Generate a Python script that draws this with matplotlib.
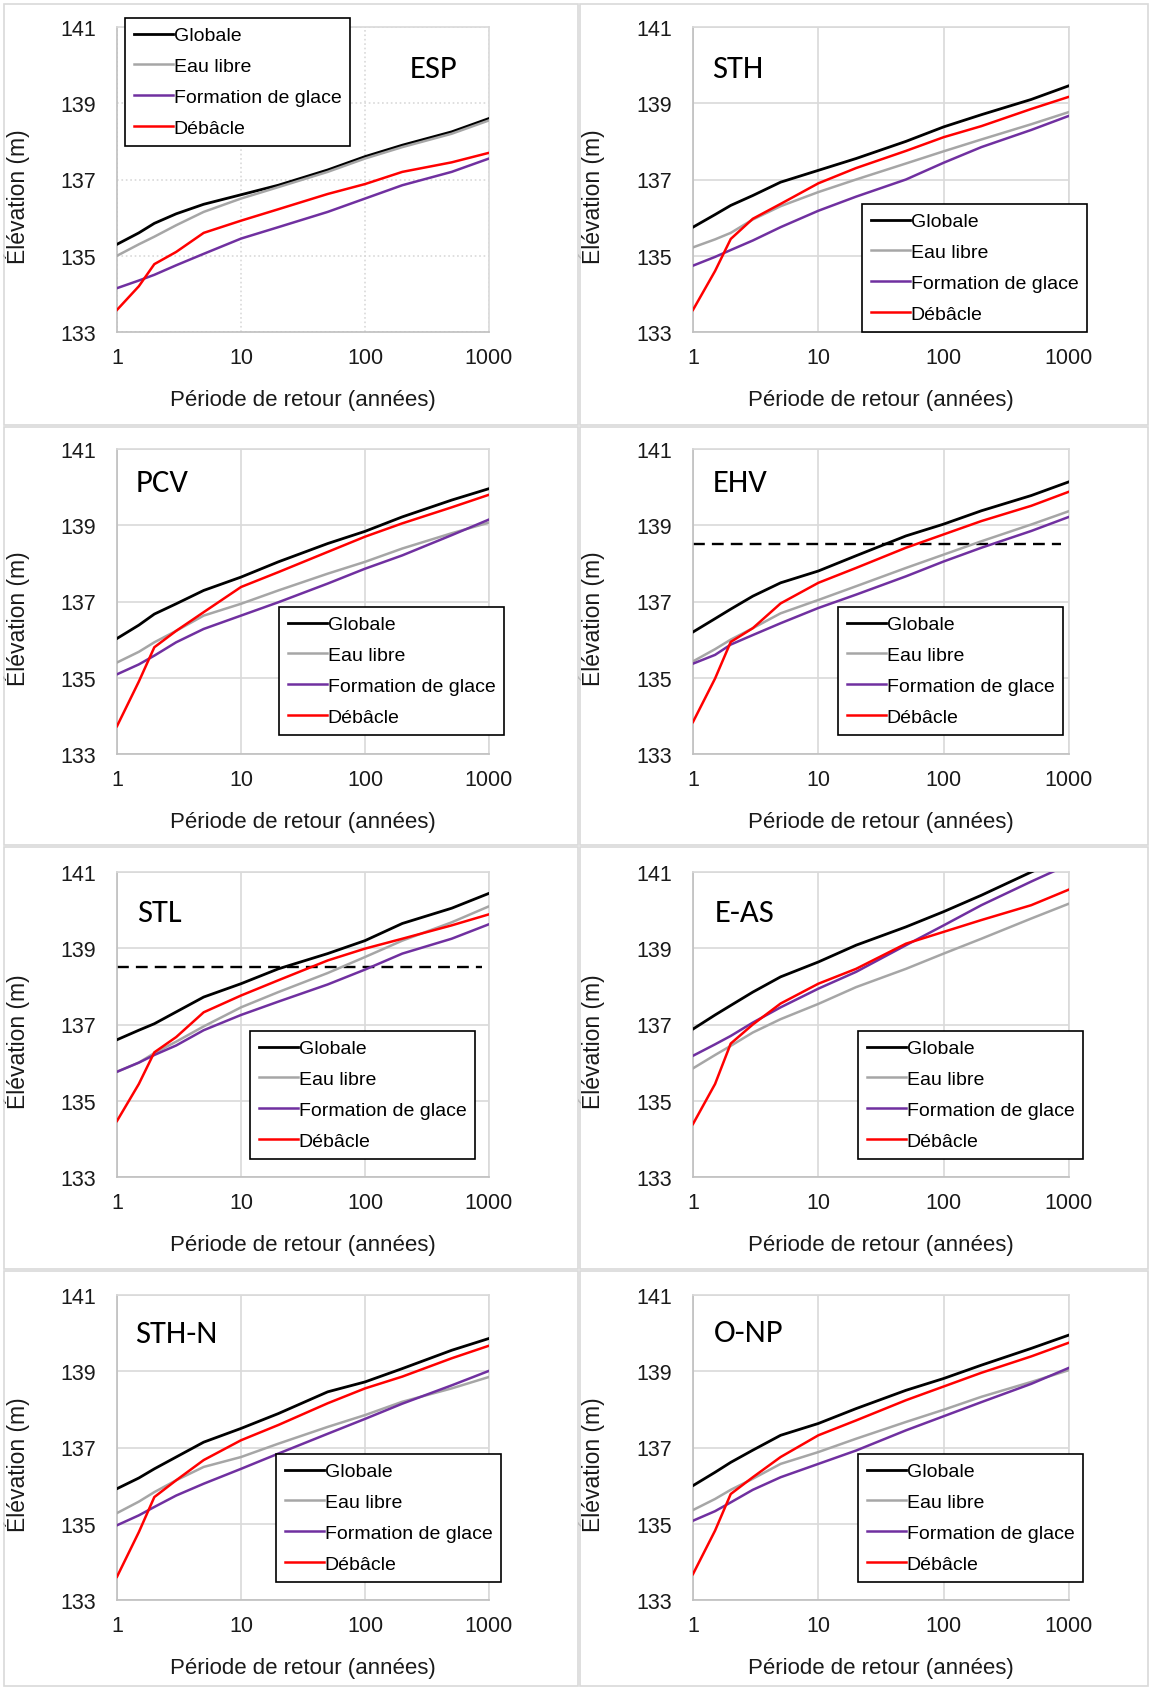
import matplotlib.pyplot as plt
from matplotlib.patches import Rectangle
from matplotlib.ticker import NullLocator

plt.rcParams['font.family'] = ['Liberation Sans', 'DejaVu Sans']

# periode de retour (annees)
periode = [1, 1.5, 2, 3, 5, 10, 20, 50, 100, 200, 500, 1000]
series_noms = ["Globale", "Eau libre", "Formation de glace", "Débâcle"]
series_couleurs = ["#000000", "#a6a6a6", "#7030a0", "#ff0000"]

# ESP
esp_globale = [135.3, 135.6, 135.85, 136.1, 136.35, 136.6, 136.85, 137.25, 137.6, 137.9, 138.25, 138.6]
esp_eau = [135.0, 135.3, 135.5, 135.8, 136.15, 136.5, 136.8, 137.2, 137.55, 137.85, 138.2, 138.55]
esp_glace = [134.15, 134.35, 134.5, 134.75, 135.05, 135.45, 135.75, 136.15, 136.5, 136.85, 137.2, 137.55]
esp_debacle = [133.58, 134.2, 134.78, 135.1, 135.6, 135.92, 136.22, 136.62, 136.88, 137.2, 137.45, 137.7]
# STH
sth_globale = [135.75, 136.08, 136.32, 136.58, 136.93, 137.24, 137.55, 138.0, 138.38, 138.7, 139.1, 139.46]
sth_eau = [135.22, 135.43, 135.6, 135.95, 136.3, 136.67, 137.0, 137.42, 137.74, 138.05, 138.45, 138.77]
sth_glace = [134.74, 134.97, 135.15, 135.4, 135.75, 136.18, 136.55, 137.0, 137.44, 137.85, 138.3, 138.67]
sth_debacle = [133.58, 134.6, 135.44, 135.97, 136.36, 136.9, 137.3, 137.75, 138.11, 138.4, 138.85, 139.17]
# PCV
pcv_globale = [136.03, 136.38, 136.67, 136.94, 137.29, 137.64, 138.04, 138.52, 138.84, 139.22, 139.66, 139.96]
pcv_eau = [135.4, 135.68, 135.93, 136.23, 136.63, 136.94, 137.29, 137.73, 138.04, 138.39, 138.79, 139.07]
pcv_glace = [135.09, 135.35, 135.58, 135.93, 136.28, 136.63, 136.98, 137.47, 137.86, 138.21, 138.74, 139.15]
pcv_debacle = [133.73, 134.9, 135.8, 136.23, 136.72, 137.38, 137.77, 138.3, 138.7, 139.05, 139.47, 139.8]
# EHV
ehv_globale = [136.2, 136.55, 136.8, 137.14, 137.49, 137.8, 138.2, 138.72, 139.03, 139.38, 139.78, 140.14]
ehv_eau = [135.43, 135.75, 136.0, 136.3, 136.69, 137.04, 137.4, 137.88, 138.23, 138.58, 139.02, 139.37]
ehv_glace = [135.37, 135.6, 135.87, 136.12, 136.43, 136.83, 137.18, 137.66, 138.05, 138.41, 138.85, 139.22]
ehv_debacle = [133.84, 134.98, 135.94, 136.3, 136.95, 137.49, 137.88, 138.41, 138.76, 139.11, 139.51, 139.88]
# STL
stl_globale = [136.6, 136.85, 137.02, 137.33, 137.72, 138.07, 138.46, 138.86, 139.2, 139.65, 140.05, 140.44]
stl_eau = [135.76, 136.0, 136.25, 136.55, 136.95, 137.45, 137.85, 138.35, 138.77, 139.2, 139.68, 140.1]
stl_glace = [135.76, 136.0, 136.2, 136.45, 136.85, 137.25, 137.6, 138.05, 138.44, 138.86, 139.25, 139.63]
stl_debacle = [134.47, 135.44, 136.27, 136.67, 137.32, 137.76, 138.16, 138.68, 138.99, 139.25, 139.6, 139.89]
# E-AS
eas_globale = [136.88, 137.25, 137.5, 137.85, 138.25, 138.64, 139.08, 139.56, 139.96, 140.39, 141.0, 141.45]
eas_eau = [135.85, 136.2, 136.44, 136.79, 137.14, 137.54, 137.98, 138.46, 138.86, 139.25, 139.78, 140.17]
eas_glace = [136.18, 136.48, 136.7, 137.05, 137.45, 137.94, 138.38, 139.08, 139.6, 140.13, 140.75, 141.2]
eas_debacle = [134.39, 135.44, 136.5, 137.0, 137.55, 138.07, 138.46, 139.12, 139.43, 139.74, 140.13, 140.54]
# STH-N
sthn_globale = [135.92, 136.2, 136.44, 136.75, 137.14, 137.5, 137.89, 138.46, 138.72, 139.07, 139.55, 139.86]
sthn_eau = [135.28, 135.58, 135.83, 136.14, 136.49, 136.75, 137.1, 137.54, 137.85, 138.2, 138.55, 138.85]
sthn_glace = [134.96, 135.22, 135.44, 135.74, 136.05, 136.44, 136.84, 137.36, 137.75, 138.15, 138.63, 139.01]
sthn_debacle = [133.61, 134.78, 135.7, 136.14, 136.67, 137.19, 137.59, 138.16, 138.55, 138.86, 139.34, 139.67]
# O-NP
onp_globale = [136.0, 136.35, 136.61, 136.93, 137.32, 137.63, 138.02, 138.5, 138.81, 139.16, 139.6, 139.95]
onp_eau = [135.36, 135.65, 135.89, 136.18, 136.57, 136.88, 137.23, 137.67, 137.99, 138.33, 138.72, 139.03]
onp_glace = [135.08, 135.33, 135.56, 135.89, 136.22, 136.57, 136.92, 137.45, 137.82, 138.19, 138.67, 139.09]
onp_debacle = [133.68, 134.82, 135.78, 136.22, 136.75, 137.32, 137.71, 138.24, 138.6, 138.96, 139.39, 139.75]

# seuil (ligne pointillee) pour EHV et STL
seuil = 138.5
seuil_fin = 870

W, H = 1151, 1690
fig = plt.figure(figsize=(W / 100, H / 100), dpi=100)

# cadres gris des cellules
cols_x = [(4, 578), (580, 1148)]
rows_y = [(5, 426), (428, 846), (848, 1270), (1272, 1687)]
for (x0, x1) in cols_x:
    for (y0, y1) in rows_y:
        fig.add_artist(Rectangle((x0 / W, 1 - y1 / H), (x1 - x0) / W, (y1 - y0) / H,
                                 transform=fig.transFigure, fill=False,
                                 edgecolor="#d9d9d9", lw=1.2))

axes_left = [117, 693]
axes_width = [372, 376]
axes_top = [28, 450, 873, 1296]
axes_height = 305

# nom, series, colonne, rangee, position du titre (px), coin de la legende (px), seuil
panneaux = [
    ("ESP", [esp_globale, esp_eau, esp_glace, esp_debacle], 0, 0, (410, 69), (125, 19), False),
    ("STH", [sth_globale, sth_eau, sth_glace, sth_debacle], 1, 0, (712, 69), (862, 205), False),
    ("PCV", [pcv_globale, pcv_eau, pcv_glace, pcv_debacle], 0, 1, (136, 483), (279, 608), False),
    ("EHV", [ehv_globale, ehv_eau, ehv_glace, ehv_debacle], 1, 1, (713, 483), (838, 608), True),
    ("STL", [stl_globale, stl_eau, stl_glace, stl_debacle], 0, 2, (137, 913), (250, 1032), True),
    ("E-AS", [eas_globale, eas_eau, eas_glace, eas_debacle], 1, 2, (715, 913), (858, 1032), False),
    ("STH-N", [sthn_globale, sthn_eau, sthn_glace, sthn_debacle], 0, 3, (135, 1334), (276, 1455), False),
    ("O-NP", [onp_globale, onp_eau, onp_glace, onp_debacle], 1, 3, (714, 1333), (858, 1455), False),
]

for nom, series, c, r, (tx, ty), (lx, ly), pointille in panneaux:
    left, width, top = axes_left[c], axes_width[c], axes_top[r]
    ax = fig.add_axes([left / W, 1 - (top + axes_height) / H, width / W, axes_height / H])
    ax.set_xscale("log")
    ax.set_xlim(1, 1000)
    ax.set_ylim(133, 141)
    ax.set_xticks([1, 10, 100, 1000])
    ax.set_xticklabels(["1", "10", "100", "1000"])
    ax.xaxis.set_minor_locator(NullLocator())
    ax.set_yticks([133, 135, 137, 139, 141])
    ax.tick_params(length=0, labelsize=15.5, colors="#1a1a1a")
    ax.tick_params(axis="y", pad=15)
    ax.tick_params(axis="x", pad=11)
    style = ":" if nom == "ESP" else "-"
    ax.grid(True, color="#d9d9d9", lw=1.2, ls=style)
    for s in ax.spines.values():
        s.set_color("#d9d9d9")
        s.set_linewidth(1.2)
    ax.spines["left"].set_color("#bfbfbf")
    ax.spines["bottom"].set_color("#bfbfbf")

    for vals, lab, col in zip(series, series_noms, series_couleurs):
        ax.plot(periode, vals, color=col, lw=2.0 if col == "#000000" else 1.8,
                label=lab, zorder=3)
    if pointille:
        ax.plot([1, seuil_fin], [seuil, seuil], color="black", lw=1.7,
                ls=(0, (5, 3)), zorder=2)

    ax.set_xlabel("Période de retour (années)", fontsize=16, color="#1a1a1a")
    ax.set_ylabel("Élévation (m)", fontsize=16.5, color="#1a1a1a")
    ax.xaxis.set_label_coords(0.5, -0.187)
    ax.yaxis.set_label_coords(-0.235, 0.446)

    fig.text(tx / W, 1 - ty / H, nom, fontsize=23.5, va="center", ha="left",
             family=["Carlito", "Open Sans", "DejaVu Sans"])

    leg = ax.legend(loc="upper left", bbox_to_anchor=(lx / W, 1 - ly / H),
                    bbox_transform=fig.transFigure, borderaxespad=0,
                    fontsize=14, handlelength=2.0, handletextpad=0.05,
                    labelspacing=0.68, borderpad=0.45, fancybox=False,
                    framealpha=1, edgecolor="black")
    leg.get_frame().set_linewidth(1.2)
    leg.set_zorder(5)

fig.savefig("out.png", dpi=100)
